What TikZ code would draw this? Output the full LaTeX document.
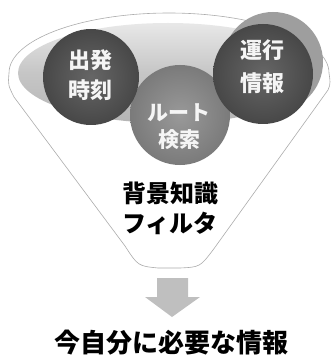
\documentclass[tikz,border=0pt]{standalone}
\usepackage{fontspec}
\newfontfamily\jp{Noto Sans CJK JP}
\begin{document}
\begin{tikzpicture}[x=1pt,y=-1pt,
  funnelline/.style={draw=gray!65,line width=0.6pt},
  balltext/.style={text=gray!8,font=\jp\bfseries\fontsize{22}{30}\selectfont,align=center,inner sep=0pt},
  darkball/.style={inner color=black!60,outer color=black!72},
  label/.style={text=black,font=\jp\bfseries\fontsize{24}{30}\selectfont,inner sep=0pt}]
\useasboundingbox (0,0) rectangle (330,358);
% funnel outline
\path[funnelline,fill=white]
  (9,73) .. controls (9,40) and (80.6,13) .. (169,13)
  .. controls (257.4,13) and (329,40) .. (329,73)
  .. controls (330,80) and (331,84) .. (328,90)
  -- (213,250) .. controls (200,267) .. (180,268)
  -- (158,268) .. controls (138,266) .. (125,246)
  -- (14,97) .. controls (8,85) .. (9,73) -- cycle;
% inner disc
\shade[top color=gray!18,bottom color=gray!58,middle color=gray!45]
  (168,73) ellipse [x radius=150,y radius=50];
% halo of right ball
\fill[black!38] (273,62) circle [radius=50];
% middle ball
\shade[inner color=black!40,outer color=black!52] (180,115) circle [radius=50];
% left and right balls
\shade[darkball] (91,77) circle [radius=48];
\shade[darkball] (263,74) circle [radius=50];
% ball texts
\node[balltext] (dep) at (90,75) {出発\\時刻};
\node[balltext,font=\jp\bfseries\fontsize{22}{33}\selectfont] (ops) at (262,67) {運行\\情報};
\node[balltext,font=\jp\bfseries\fontsize{21}{27}\selectfont] (route) at (179,127) {ルート\\検索};
% funnel labels
\node[label] (bg) at (170,193) {背景知識};
\node[label] (flt) at (170,223) {フィルタ};
% arrow
\fill[gray!50] (157,278) -- (188,278) -- (188,297) -- (200,297) -- (172,317)
  -- (145,297) -- (157,297) -- cycle;
% result
\node[label,font=\jp\bfseries\fontsize{26}{30}\selectfont] (res) at (171,343) {今自分に必要な情報};
\end{tikzpicture}
\end{document}
